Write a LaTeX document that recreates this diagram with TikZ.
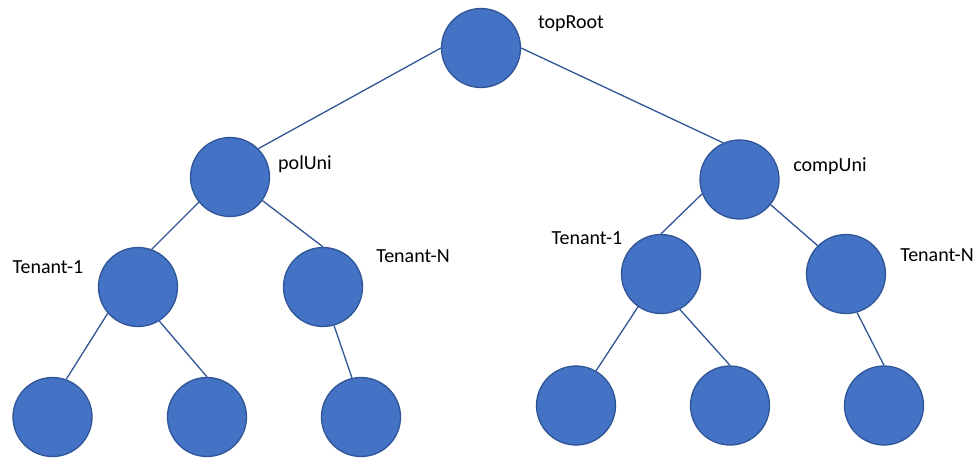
\documentclass[tikz,border=0pt]{standalone}
\usepackage{fontspec}
\setmainfont{Carlito}
\usepackage{tikz}
\usetikzlibrary{positioning}
\definecolor{nodefill}{RGB}{68,114,196}
\definecolor{nodeedge}{RGB}{47,85,151}
\tikzset{
  vert/.style={circle,draw=nodeedge,fill=nodefill,line width=1.3pt,
               minimum size=79pt,inner sep=0pt},
  lbl/.style={text=black,inner sep=0pt,font=\fontsize{20}{24}\selectfont},
  edge/.style={draw=nodeedge,line width=1.3pt},
}
\begin{document}
\begin{tikzpicture}[x=1pt,y=-1pt]
  \useasboundingbox (0,0) rectangle (976,459);
  % tree vertices
  \node[vert] (root) at (481,48) {};
  \node[vert] (pol) at (230,177) {};
  \node[vert] (comp) at (739.5,179.5) {};
  \node[vert] (polA) at (138,287) {};
  \node[vert] (polN) at (323,287) {};
  \node[vert] (compA) at (661,274) {};
  \node[vert] (compN) at (846,274) {};
  \node[vert] (leafa) at (52.5,417) {};
  \node[vert] (leafb) at (207,417) {};
  \node[vert] (leafc) at (361,417) {};
  \node[vert] (leafd) at (576,405.5) {};
  \node[vert] (leafe) at (730,405.5) {};
  \node[vert] (leaff) at (884,405.5) {};
  % labels
  \node[lbl] (lroot) at (571,24) {topRoot};
  \node[lbl] (lpol) at (305,164) {polUni};
  \node[lbl] (lcomp) at (830,166) {compUni};
  \node[lbl] (lpolA) at (48,267) {Tenant-1};
  \node[lbl] (lpolN) at (413,256) {Tenant-N};
  \node[lbl] (lcompA) at (587,238) {Tenant-1};
  \node[lbl] (lcompN) at (937,255) {Tenant-N};
  % connectors
  \draw[edge] (root.west) -- (pol.45);
  \draw[edge] (root.east) -- (comp.114);
  \draw[edge] (pol.219) -- (polA.70);
  \draw[edge] (pol.324) -- (polN.north);
  \draw[edge] (comp.201) -- (compA.north);
  \draw[edge] (comp.321) -- (compN.135);
  \draw[edge] (polA.221) -- (leafa.70);
  \draw[edge] (polA.302) -- (leafb.north);
  \draw[edge] (polN.286) -- (leafc.103);
  \draw[edge] (compA.235) -- (leafd.60);
  \draw[edge] (compA.298) -- (leafe.north);
  \draw[edge] (compN.286) -- (leaff.north);
\end{tikzpicture}
\end{document}
